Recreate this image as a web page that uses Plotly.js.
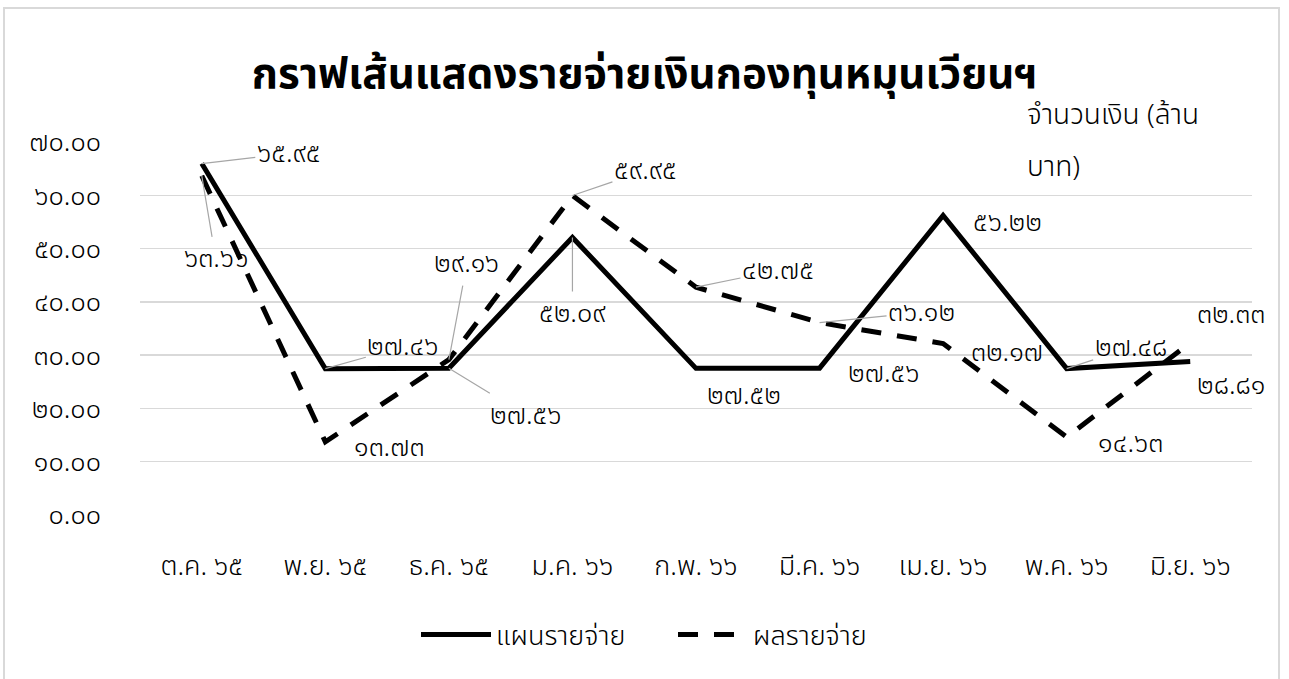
<!DOCTYPE html>
<html>
<head>
<meta charset="utf-8">
<script src="https://cdn.plot.ly/plotly-3.0.1.min.js"></script>
<style>
  html, body { margin: 0; padding: 0; background: #ffffff; overflow: hidden; }
  #chart { width: 1289px; height: 679px; position: relative; }
  #frame { position: absolute; left: 3px; top: 7px; width: 1277px; height: 700px;
           border: 2px solid #d9d9d9; pointer-events: none; box-sizing: border-box; }
</style>
</head>
<body>
<div id="chart"></div>
<div id="frame"></div>
<script>
// ---- data ----
const months = ["ต.ค. ๖๕", "พ.ย. ๖๕", "ธ.ค. ๖๕", "ม.ค. ๖๖", "ก.พ. ๖๖", "มี.ค. ๖๖", "เม.ย. ๖๖", "พ.ค. ๖๖", "มิ.ย. ๖๖"];
const planValues   = [65.95, 27.46, 27.56, 52.09, 27.52, 27.56, 56.22, 27.48, 28.81];
const actualValues = [63.66, 13.73, 29.16, 59.95, 42.75, 36.12, 32.17, 14.63, 32.33];
const planName = "แผนรายจ่าย";
const actualName = "ผลรายจ่าย";
const titleText = "กราฟเส้นแสดงรายจ่ายเงินกองทุนหมุนเวียนฯ";
const unitLine1 = "จำนวนเงิน (ล้าน";
const unitLine2 = "บาท)";
const yTickValues = [0, 10, 20, 30, 40, 50, 60, 70];

// ---- label placement (pixel offsets from each point; leader = show gray leader line) ----
const planOffsets = [[87,-10,1],[78,-22,1],[77,47,1],[0,76,1],[48,27,0],[64,5,0],[64,7,0],[64,-21,1],[41,24,0]];
const actualOffsets = [[14,83,1],[64,6,0],[18,-96,1],[73,-25,1],[82,-17,1],[102,-10,1],[64,9,0],[64,6,0],[41,-28,0]];

const thaiDigits = "๐๑๒๓๔๕๖๗๘๙";
function toThai(s) { return String(s).replace(/[0-9]/g, d => thaiDigits[+d]); }
function fmt(v) { return toThai(v.toFixed(2)); }

const FONT = '"Noto Sans Thai", "Leelawadee UI", Tahoma, "Noto Sans", "DejaVu Sans", sans-serif';
const LBL = 27;

const traces = [
  { x: months, y: planValues, name: planName, type: "scatter", mode: "lines",
    line: { color: "#000000", width: 5 } },
  { x: months, y: actualValues, name: actualName, type: "scatter", mode: "lines",
    line: { color: "#000000", width: 5, dash: "20px,16px" } }
];

const annotations = [];
function addLabels(values, offsets) {
  values.forEach((v, i) => {
    const [dx, dy, lead] = offsets[i];
    if (lead) {
      annotations.push({ x: months[i], y: v, xref: "x", yref: "y", text: fmt(v),
        showarrow: true, ax: dx, ay: dy, arrowhead: 0, arrowwidth: 1.2, arrowcolor: "#a6a6a6",
        standoff: 0, startstandoff: 0, font: { family: FONT, size: LBL, color: "#000", weight: 300 } });
    } else {
      annotations.push({ x: months[i], y: v, xref: "x", yref: "y", text: fmt(v),
        showarrow: false, xshift: dx, yshift: -dy,
        font: { family: FONT, size: LBL, color: "#000", weight: 300 } });
    }
  });
}
addLabels(planValues, planOffsets);
addLabels(actualValues, actualOffsets);

annotations.push({ xref: "paper", yref: "paper", x: 0.796, y: 1.0715, xanchor: "left", yanchor: "middle",
  text: unitLine1, showarrow: false, font: { family: FONT, size: 28, color: "#000", weight: 300 } });
annotations.push({ xref: "paper", yref: "paper", x: 0.796, y: 0.932, xanchor: "left", yanchor: "middle",
  text: unitLine2, showarrow: false, font: { family: FONT, size: 28, color: "#000", weight: 300 } });

const layout = {
  width: 1289, height: 679,
  margin: { l: 140, r: 37, t: 142, b: 164 },
  paper_bgcolor: "#ffffff", plot_bgcolor: "#ffffff",
  font: { family: FONT, size: LBL, color: "#000", weight: 300 },
  title: { text: "<b>" + titleText + "</b>", font: { family: FONT, size: 42, color: "#000" },
           x: 0.5, xref: "container", xanchor: "center", y: 0.892, yref: "container", yanchor: "middle" },
  xaxis: { type: "category", range: [-0.5, 8.5], showgrid: false, zeroline: false, showline: false, ticks: "",
           ticklabelstandoff: 32, tickfont: { family: FONT, size: LBL, color: "#000", weight: 300 }, fixedrange: true },
  yaxis: { range: [0, 70], tickvals: yTickValues, ticktext: yTickValues.map(fmt),
           showgrid: true, gridcolor: "#d9d9d9", gridwidth: 1.5, zeroline: false, showline: false, ticks: "",
           ticklabelstandoff: 38, tickfont: { family: FONT, size: LBL, color: "#000", weight: 300 }, fixedrange: true },
  showlegend: true,
  legend: { orientation: "h", x: 416/1289, xref: "container", xanchor: "left",
            y: 1 - 635/679, yref: "container", yanchor: "middle", entrywidth: 172, entrywidthmode: "pixels",
            font: { family: FONT, size: LBL, color: "#000", weight: 300 }, itemwidth: 70, traceorder: "normal" },
  annotations: annotations
};

Plotly.newPlot("chart", traces, layout, { displayModeBar: false, staticPlot: true });
</script>
</body>
</html>
